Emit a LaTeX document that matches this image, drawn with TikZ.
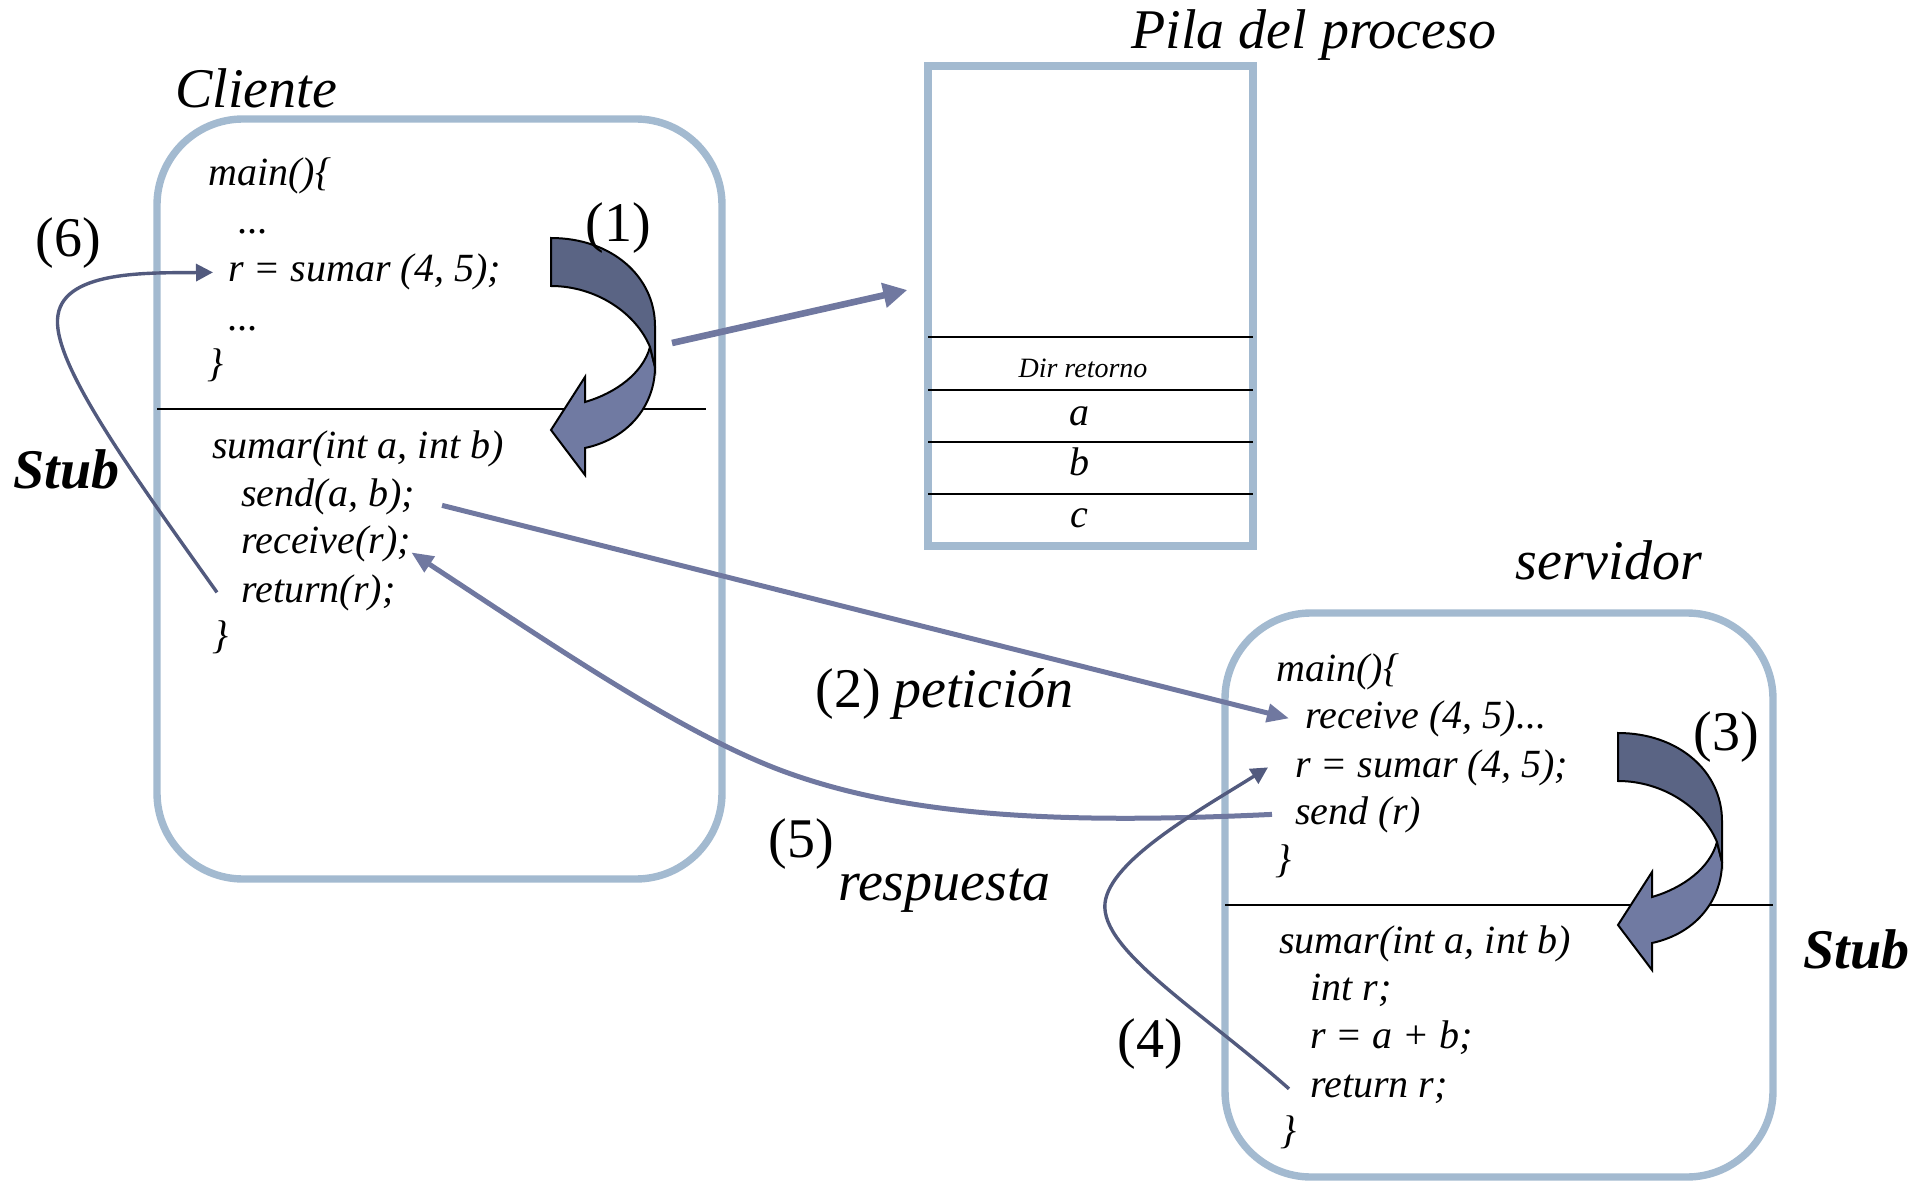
\documentclass[tikz,border=0pt]{standalone}
\usepackage{fontspec}
\setmainfont{Liberation Serif}
\usepackage{xcolor}
\usetikzlibrary{arrows.meta,positioning}
\definecolor{marco}{RGB}{163,186,208}
\definecolor{flecha}{RGB}{112,120,160}
\definecolor{flechaosc}{RGB}{82,90,126}
\definecolor{girooscuro}{RGB}{90,100,132}
\definecolor{giroclaro}{RGB}{112,122,162}

\begin{document}
\begin{tikzpicture}[x=0.5pt,y=-0.5pt,
	code/.style={anchor=base west,inner sep=0pt,font=\itshape\fontsize{20pt}{24pt}\selectfont},
	lbl/.style={anchor=base west,inner sep=0pt,font=\fontsize{28pt}{32pt}\selectfont},
	titulo/.style={lbl,font=\itshape\fontsize{28pt}{32pt}\selectfont},
	stub/.style={lbl,font=\bfseries\itshape\fontsize{28pt}{32pt}\selectfont},
	caja/.style={draw=marco,line width=3.7pt,rounded corners=43pt,inner sep=0pt},
	pilabox/.style={draw=marco,line width=3.7pt,inner sep=0pt},
	sep/.style={line width=1pt},
	envio/.style={draw=flecha,line width=2.5pt,-{Triangle[length=11pt,width=9pt]}},
	salto/.style={draw=flechaosc,line width=1.7pt,-{Triangle[length=8.5pt,width=8.5pt]}}]
			\useasboundingbox (0,0) rectangle (1923,1182);

			\node[caja,minimum width=282.5pt,minimum height=380pt] (cliente) at (439.5,499) {};
			\node[caja,minimum width=274pt,minimum height=282pt] (servidor) at (1499,895) {};
			\node[pilabox,minimum width=162.5pt,minimum height=240pt] (pila) at (1090.5,306) {};
			\draw[sep] (157,409) -- (706,409);
			\draw[sep] (1225,905) -- (1773,905);
			\foreach \yy in {337,390,442,494}
				\draw[sep] (928,\yy) -- (1253,\yy);

			\node[titulo] (tcli) at (175,108) {Cliente};
			\node[titulo] (tpila) at (1131,49) {Pila del proceso};
			\node[titulo] (tserv) at (1515,579) {servidor};

			\node[anchor=base,inner sep=0pt,font=\itshape\fontsize{14pt}{16pt}\selectfont] (dir) at (1083,378) {Dir retorno};
			\node[code,anchor=base] (pa) at (1079,425) {a};
			\node[code,anchor=base] (pb) at (1079,475) {b};
			\node[code,anchor=base] (pc) at (1079,527) {c};

			\node[code] (c1) at (208,186) {main()\{};
			\node[code] (c2) at (238,234) {...};
			\node[code] (c3) at (228,282) {r = sumar (4, 5);};
			\node[code] (c4) at (228,330) {...};
			\node[code] (c5) at (207,377) {\}};
			\node[code] (c6) at (212,458) {sumar(int a, int b)};
			\node[code] (c7) at (241,506) {send(a, b);};
			\node[code] (c8) at (241,553) {receive(r);};
			\node[code] (c9) at (241,602) {return(r);};
			\node[code] (c10) at (212,648) {\}};

			\node[code] (s1) at (1276,681) {main()\{};
			\node[code] (s2) at (1305,728) {receive (4, 5)...};
			\node[code] (s3) at (1295,777) {r = sumar (4, 5);};
			\node[code] (s4) at (1295,824) {send (r)};
			\node[code] (s5) at (1275,872) {\}};
			\node[code] (s6) at (1279,953) {sumar(int a, int b)};
			\node[code] (s7) at (1310,1000) {int r;};
			\node[code] (s8) at (1310,1048) {r = a + b;};
			\node[code] (s9) at (1310,1097) {return r;};
			\node[code] (s10) at (1280,1143) {\}};

			\foreach \ox/\oy in {551/238,1618/733}{
				\begin{scope}[shift={(\ox,\oy)},line width=1pt]
					\filldraw[fill=giroclaro] (99,109) -- (104,129) .. controls (104,165) and (80,200) .. (34,210) -- (34,237) -- (0,192) -- (34,139) -- (34,164) .. controls (65,155) and (92,135) .. (99,109) -- cycle;
					\filldraw[fill=girooscuro] (0,0) .. controls (60,0) and (104,38) .. (104,88) -- (104,129) -- (99,109) .. controls (85,75) and (45,48) .. (0,48) -- cycle;
				\end{scope}
			}
			\coordinate (giro1) at (655,343);

			\draw[draw=flecha,line width=3.3pt,-{Triangle[length=12pt,width=12pt]}] ([xshift=8.5pt]giro1) -- ([xshift=-8.5pt,yshift=8pt]pila.west);
			\draw[envio] ([xshift=13.5pt,yshift=-4.5pt]c7.east) -- ([xshift=-8pt]s2.west);
			\draw[envio] ([xshift=-11.5pt]s4.west) .. controls (1050,825) and (900,815) .. (780,770) .. controls (680,732) and (560,650) .. ([yshift=-4.5pt]c8.east);
			\draw[salto] ([xshift=-12pt]c9.west) .. controls (130,470) and (50,360) .. (58,315) .. controls (65,270) and (150,273) .. ([xshift=-7.5pt]c3.west);
			\draw[salto] ([xshift=-10.5pt]s9.west) .. controls (1200,1010) and (1100,950) .. (1105,903) .. controls (1110,860) and (1200,810) .. ([xshift=-13.5pt]s3.west);

			\node[lbl] (n1) at (585,242) {(1)};
			\node[lbl] (n6) at (35,257) {(6)};
			\node[stub] (stubc) at (13,488) {Stub};
			\node[lbl] (n2) at (815,707) {(2)};
			\node[titulo] (pet) at ([xshift=6pt]n2.base east) {petición};
			\node[lbl] (n5) at (768,857) {(5)};
			\node[titulo] (resp) at (838,900) {respuesta};
			\node[lbl] (n3) at (1693,750) {(3)};
			\node[stub] (stubs) at (1803,968) {Stub};
			\node[lbl] (n4) at (1117,1057) {(4)};
\end{tikzpicture}
\end{document}
